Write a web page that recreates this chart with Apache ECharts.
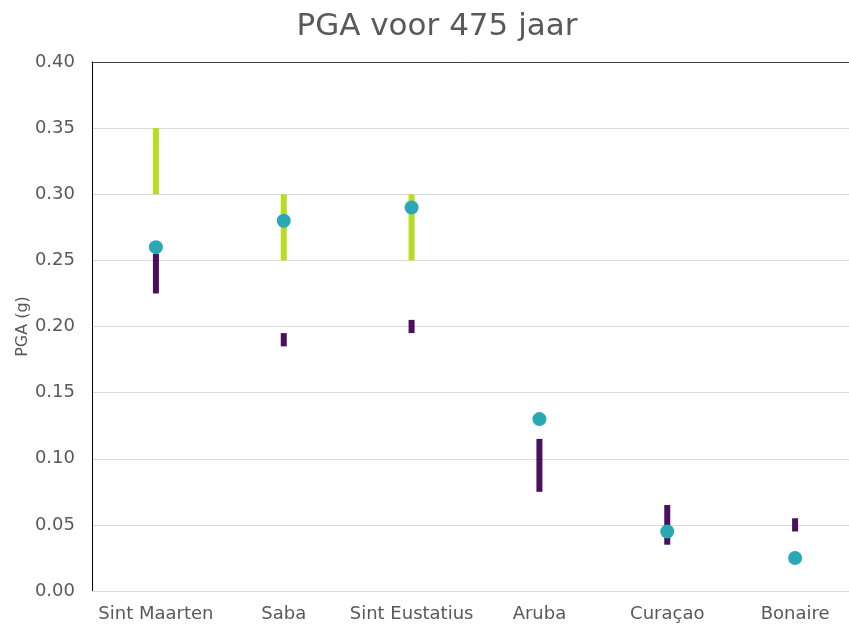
<!DOCTYPE html>
<html>
<head>
<meta charset="utf-8">
<script src="https://cdn.jsdelivr.net/npm/echarts@6/dist/echarts.min.js"></script>
<style>html,body{margin:0;padding:0;background:#fff}#c{width:849px;height:625px}</style>
</head>
<body>
<div id="c"></div>
<script>
const categories = ['Sint Maarten', 'Saba', 'Sint Eustatius', 'Aruba', 'Curaçao', 'Bonaire'];
const greenLow  = [0.30, 0.25, 0.25, null, null, null];
const greenHigh = [0.35, 0.30, 0.30, null, null, null];
const purpleLow  = [0.225, 0.185, 0.195, 0.075, 0.035, 0.045];
const purpleHigh = [0.255, 0.195, 0.205, 0.115, 0.065, 0.055];
const dots = [0.26, 0.28, 0.29, 0.13, 0.045, 0.025];
const yTicks = [0, 0.05, 0.10, 0.15, 0.20, 0.25, 0.30, 0.35, 0.40];

function rangeData(lo, hi) {
  const out = [];
  for (let i = 0; i < categories.length; i++) {
    if (lo[i] != null && hi[i] != null) out.push([i, lo[i], hi[i]]);
  }
  return out;
}
function rangeRender(color) {
  return function (params, api) {
    const a = api.coord([api.value(0), api.value(1)]);
    const b = api.coord([api.value(0), api.value(2)]);
    const w = 6;
    return {
      type: 'rect',
      shape: { x: a[0] - w / 2, y: b[1], width: w, height: a[1] - b[1] },
      style: { fill: color }
    };
  };
}

const chart = echarts.init(document.getElementById('c'), null, { renderer: 'canvas' });
const font = 'DejaVu Sans, Verdana, sans-serif';
chart.setOption({
  animation: false,
  backgroundColor: '#ffffff',
  title: {
    text: 'PGA voor 475 jaar',
    left: 432, top: 6, textAlign: 'center',
    textStyle: { fontFamily: font, fontSize: 31, fontWeight: 'normal', color: '#595959' }
  },
  grid: { left: 92, top: 62, width: 767, height: 529, outerBoundsMode: 'none', containLabel: false },
  xAxis: [{
    type: 'category',
    data: categories,
    boundaryGap: true,
    axisLine: { show: true, lineStyle: { color: '#d9d9d9', width: 1 } },
    axisTick: { show: false },
    axisLabel: { fontFamily: font, fontSize: 18, color: '#595959', margin: 14, interval: 0 },
    splitLine: { show: false }
  }, {
    type: 'category',
    data: categories,
    position: 'top',
    axisLine: { show: true, lineStyle: { color: '#404040', width: 1 } },
    axisTick: { show: false },
    axisLabel: { show: false }
  }],
  yAxis: {
    type: 'value',
    min: 0, max: 0.40, interval: 0.05,
    name: 'PGA (g)',
    nameLocation: 'middle',
    nameGap: 61,
    nameRotate: 90,
    nameMoveOverlap: false,
    nameTextStyle: { fontFamily: font, fontSize: 16, color: '#595959' },
    axisLine: { show: true, lineStyle: { color: '#000000', width: 1 } },
    axisTick: { show: false },
    axisLabel: {
      fontFamily: font, fontSize: 18, color: '#595959', margin: 17,
      formatter: function (v) { return v.toFixed(2); }
    },
    splitLine: { show: true, lineStyle: { color: '#d9d9d9', width: 1 } }
  },
  series: [
    { type: 'custom', name: 'green', renderItem: rangeRender('#b7dc24'), data: rangeData(greenLow, greenHigh), encode: { x: 0, y: [1, 2] }, z: 2 },
    { type: 'custom', name: 'purple', renderItem: rangeRender('#4a0f5e'), data: rangeData(purpleLow, purpleHigh), encode: { x: 0, y: [1, 2] }, z: 2 },
    { type: 'scatter', name: 'dots', data: dots, symbol: 'circle', symbolSize: 14, itemStyle: { color: '#2aa8b4', opacity: 1 }, z: 3 }
  ]
});
</script>
</body>
</html>
